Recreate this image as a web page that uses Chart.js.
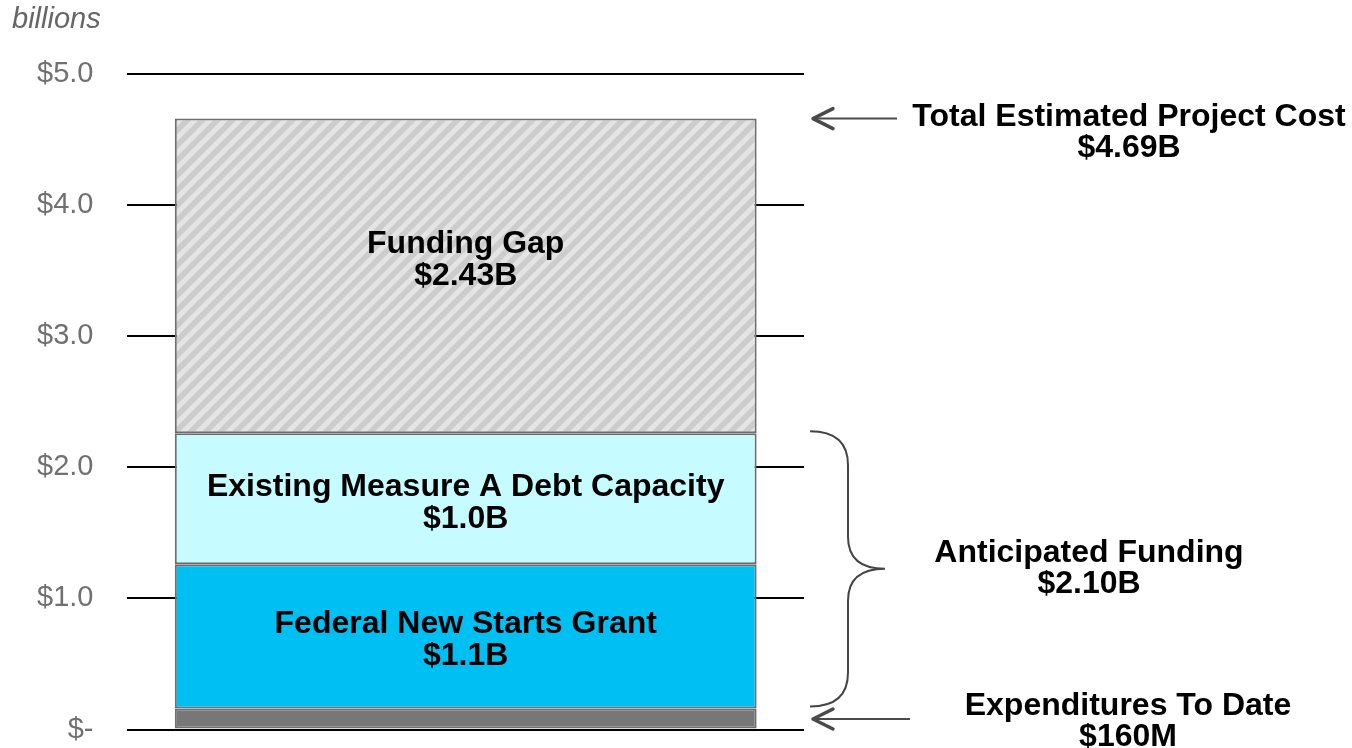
<!DOCTYPE html>
<html>
<head>
<meta charset="utf-8">
<script src="https://cdn.jsdelivr.net/npm/chart.js@4/dist/chart.umd.min.js"></script>
<style>
  html, body { margin: 0; padding: 0; background: #fff; }
  #wrap { width: 1352px; height: 748px; position: relative; }
</style>
</head>
<body>
<div id="wrap"><canvas id="chart"></canvas></div>
<script>
// data (billions)
const categories = ['Project']
const segmentNames = ['Expenditures To Date', 'Federal New Starts Grant', 'Existing Measure A Debt Capacity', 'Funding Gap']
const segmentValues = [0.16, 1.1, 1.0, 2.40]
const segmentLabels = [null, ['Federal New Starts Grant', '$1.1B'], ['Existing Measure A Debt Capacity', '$1.0B'], ['Funding Gap', '$2.43B']]
const tickValues = [0, 1, 2, 3, 4, 5]
const tickLabels = ['$-', '$1.0', '$2.0', '$3.0', '$4.0', '$5.0']
const totalNote = ['Total Estimated Project Cost', '$4.69B']
const anticipatedNote = ['Anticipated Funding', '$2.10B']
const expendNote = ['Expenditures To Date', '$160M']

const FONT = '"Liberation Sans", Arial, sans-serif'

function hatch() {
    const p = 15
    const c = document.createElement('canvas')
    c.width = p
    c.height = p
    const g = c.getContext('2d')
    g.fillStyle = '#cccccc'
    g.fillRect(0, 0, p, p)
    g.strokeStyle = '#e4e4e4'
    g.lineWidth = 5
    g.beginPath()
    g.moveTo(-3, p + 3); g.lineTo(p + 3, -3)
    g.moveTo(-3, 3); g.lineTo(3, -3)
    g.moveTo(p - 3, p + 3); g.lineTo(p + 3, p - 3)
    g.stroke()
    return g.createPattern(c, 'repeat')
}

const ctx = document.getElementById('chart').getContext('2d')
const fills = ['#777777', '#00bff2', '#c6fbff', hatch()]

function arrowLeft(g, x0, x1, y) {
    g.save()
    g.strokeStyle = '#4a4a4a'
    g.lineWidth = 2
    g.beginPath()
    g.moveTo(x0 + 2, y); g.lineTo(x1, y)
    g.stroke()
    g.lineWidth = 3.5
    g.lineCap = 'round'
    g.lineJoin = 'round'
    g.beginPath()
    g.moveTo(x0 + 20, y - 10); g.lineTo(x0, y); g.lineTo(x0 + 20, y + 10)
    g.stroke()
    g.restore()
}

function lines(g, arr, x, y, gap) {
    arr.forEach((t, i) => g.fillText(t, x, y + i * gap))
}

const notes = {
    id: 'notes',
    afterDatasetsDraw(chart) {
        const g = chart.ctx
        const y = chart.scales.y
        const R = chart.chartArea.right
        g.save()
        // labels inside the bars
        g.fillStyle = '#000'
        g.font = 'bold 32px ' + FONT
        g.textAlign = 'center'
        g.textBaseline = 'middle'
        chart.data.datasets.forEach((ds, i) => {
            const lab = segmentLabels[i]
            if (!lab) return
            const el = chart.getDatasetMeta(i).data[0]
            let cy = (el.y + el.base) / 2 - 16
            cy += (i === 3) ? -16 : 4
            lines(g, lab, el.x, cy, 32)
        })

        // cumulative tops
        const sums = []
        segmentValues.reduce((a, v, i) => (sums[i] = a + v), 0)
        const yTop = y.getPixelForValue(sums[3])
        const yExpTop = y.getPixelForValue(sums[0])
        const yExpMid = y.getPixelForValue(sums[0] / 2)
        const yAntTop = y.getPixelForValue(sums[2])

        // total cost arrow + note
        arrowLeft(g, R + 9, R + 93, yTop)
        lines(g, totalNote, R + 325, yTop - 1, 31)

        // expenditures arrow + note
        arrowLeft(g, R + 9, R + 106, yExpMid)
        lines(g, expendNote, R + 324, yExpMid - 13, 31)

        // brace for anticipated funding
        const yT = yAntTop - 2
        const yB = yExpTop - 2
        const yM = (yT + yB) / 2
        const bx = R + 44
        g.strokeStyle = '#444'
        g.lineWidth = 2
        g.beginPath()
        g.moveTo(R + 6, yT)
        g.quadraticCurveTo(bx, yT, bx, yT + 34)
        g.lineTo(bx, yM - 32)
        g.quadraticCurveTo(bx, yM, R + 81, yM)
        g.quadraticCurveTo(bx, yM, bx, yM + 32)
        g.lineTo(bx, yB - 34)
        g.quadraticCurveTo(bx, yB, R + 6, yB)
        g.stroke()
        lines(g, anticipatedNote, R + 285, yM - 16, 31)

        // units caption
        g.fillStyle = '#666'
        g.font = 'italic 29px ' + FONT
        g.textAlign = 'left'
        g.fillText('billions', 12, 20)
        g.restore()
    }
}

const chart = new Chart(ctx, {
    type: 'bar',
    data: {
        labels: categories,
        datasets: segmentNames.map((name, i) => ({
            label: name,
            data: [segmentValues[i]],
            backgroundColor: fills[i],
            borderColor: '#6e6e6e',
            borderWidth: 2,
            borderSkipped: false,
            categoryPercentage: 1,
            barPercentage: 0.86
        }))
    },
    options: {
        responsive: true,
        maintainAspectRatio: false,
        animation: false,
        layout: { padding: { left: 33, right: 548, top: 74, bottom: 0 } },
        plugins: {
            legend: { display: false },
            tooltip: { enabled: false }
        },
        scales: {
            x: { stacked: true, display: false },
            y: {
                stacked: true,
                min: 0,
                max: 5,
                afterBuildTicks: (axis) => { axis.ticks = tickValues.map(v => ({ value: v })) },
                border: { display: false },
                grid: { color: '#000', lineWidth: 2, drawTicks: true, tickLength: 30, tickColor: 'rgba(0,0,0,0)' },
                ticks: {
                    padding: 4,
                    color: '#707070',
                    font: { family: FONT, size: 29, lineHeight: 1.0 },
                    callback: (v) => tickLabels[tickValues.indexOf(v)]
                }
            }
        }
    },
    plugins: [notes]
})
</script>
</body>
</html>
